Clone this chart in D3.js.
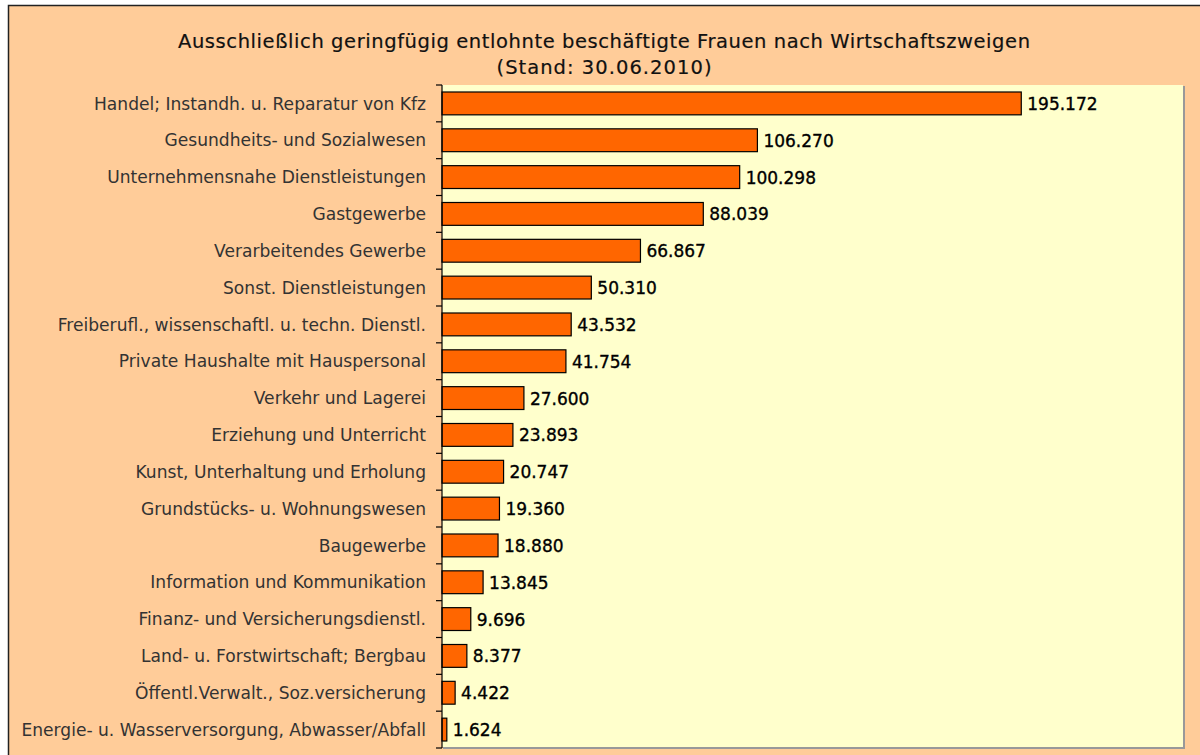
<!DOCTYPE html>
<html>
<head>
<meta charset="utf-8">
<script src="https://cdn.jsdelivr.net/npm/d3@7"></script>
<style>
  body { margin: 0; background: #fff; }
  svg { display: block; }
</style>
</head>
<body>
<svg width="1200" height="755"></svg>
<script>
var categories = [
  "Handel; Instandh. u. Reparatur von Kfz",
  "Gesundheits- und Sozialwesen",
  "Unternehmensnahe Dienstleistungen ",
  "Gastgewerbe",
  "Verarbeitendes Gewerbe",
  "Sonst. Dienstleistungen",
  "Freiberufl., wissenschaftl. u. techn. Dienstl.",
  "Private Haushalte mit Hauspersonal",
  "Verkehr und Lagerei",
  "Erziehung und Unterricht",
  "Kunst, Unterhaltung und Erholung",
  "Grundstücks- u. Wohnungswesen",
  "Baugewerbe",
  "Information und Kommunikation",
  "Finanz- und Versicherungsdienstl.",
  "Land- u. Forstwirtschaft; Bergbau",
  "Öffentl.Verwalt., Soz.versicherung",
  "Energie- u. Wasserversorgung, Abwasser/Abfall"
]
var values = [195172, 106270, 100298, 88039, 66867, 50310, 43532, 41754, 27600,
  23893, 20747, 19360, 18880, 13845, 9696, 8377, 4422, 1624]
var titleLines = [
  "Ausschließlich geringfügig entlohnte beschäftigte Frauen nach Wirtschaftszweigen",
  "(Stand: 30.06.2010)"
]
var titleWidths = [852, 215]

function fmt(v) {
  // German thousands separator
  return d3.format(",")(v).replace(/,/g, ".")
}

function main() {
  var svg = d3.select("svg")
  var margin = {top: 85, left: 442, right: 16, bottom: 7}
  var width = 1200 - margin.left - margin.right
  var height = 755 - margin.top - margin.bottom

  // outer frame
  svg.append("rect")
    .attr("x", 8.5).attr("y", 5.5)
    .attr("width", 1230).attr("height", 800)
    .attr("fill", "#ffcc99")
    .attr("stroke", "#222").attr("stroke-width", 1.5)

  // title
  svg.append("g").selectAll("text").data(titleLines).enter().append("text")
    .attr("x", 604)
    .attr("y", (d, i) => 48 + i * 26)
    .attr("text-anchor", "middle")
    .attr("font-family", "'DejaVu Sans', sans-serif")
    .attr("font-size", 19.5)
    .attr("textLength", (d, i) => titleWidths[i])
    .attr("lengthAdjust", "spacing")
    .attr("fill", "#111")
    .attr("stroke", "#111").attr("stroke-width", 0.2)
    .text(d => d)

  var canvas = svg.append("g")
    .attr("transform", "translate(" + margin.left + "," + margin.top + ")")

  var xScale = d3.scaleLinear().domain([0, 250000]).range([0, width])
  var yScale = d3.scaleBand().domain(categories).range([0, height]).paddingInner(0.38).paddingOuter(0.19)

  // plot area with grey shadow edge
  canvas.append("rect")
    .attr("x", 1).attr("y", 1)
    .attr("width", width).attr("height", height)
    .attr("fill", "#999")
  canvas.append("rect")
    .attr("x", 0).attr("y", 0)
    .attr("width", width - 1).attr("height", height - 1)
    .attr("fill", "#ffffcc")

  // bars
  canvas.selectAll(".bar").data(values).enter().append("rect")
    .attr("class", "bar")
    .attr("x", 0)
    .attr("y", (d, i) => yScale(categories[i]))
    .attr("width", d => xScale(d))
    .attr("height", yScale.bandwidth())
    .attr("fill", "#ff6600")
    .attr("stroke", "#000").attr("stroke-width", 1.2)

  // value labels
  canvas.selectAll(".val").data(values).enter().append("text")
    .attr("class", "val")
    .attr("x", d => xScale(d) + 6)
    .attr("y", (d, i) => yScale(categories[i]) + yScale.bandwidth() / 2)
    .attr("dy", "0.38em")
    .attr("font-family", "'DejaVu Sans', sans-serif")
    .attr("font-size", 17)
    .attr("fill", "#000")
    .attr("stroke", "#000").attr("stroke-width", 0.35)
    .text(d => fmt(d))

  // category axis with ticks between bands
  var boundaries = d3.range(categories.length + 1).map(i => i * height / categories.length)
  var axis = canvas.append("g")
  axis.append("line")
    .attr("x1", 0).attr("x2", 0).attr("y1", 0).attr("y2", height)
    .attr("stroke", "#000").attr("stroke-width", 1.2)
  axis.selectAll(".tick").data(boundaries).enter().append("line")
    .attr("x1", -6).attr("x2", 0)
    .attr("y1", d => d).attr("y2", d => d)
    .attr("stroke", "#000").attr("stroke-width", 1.2)
  axis.selectAll(".lab").data(categories).enter().append("text")
    .attr("x", -16)
    .attr("y", d => yScale(d) + yScale.bandwidth() / 2)
    .attr("dy", "0.36em")
    .attr("text-anchor", "end")
    .attr("font-family", "'DejaVu Sans', sans-serif")
    .attr("font-size", 17.1)
    .attr("fill", "#333")
    .text(d => d)
}

window.onload = function() {
  main()
}
</script>
</body>
</html>
